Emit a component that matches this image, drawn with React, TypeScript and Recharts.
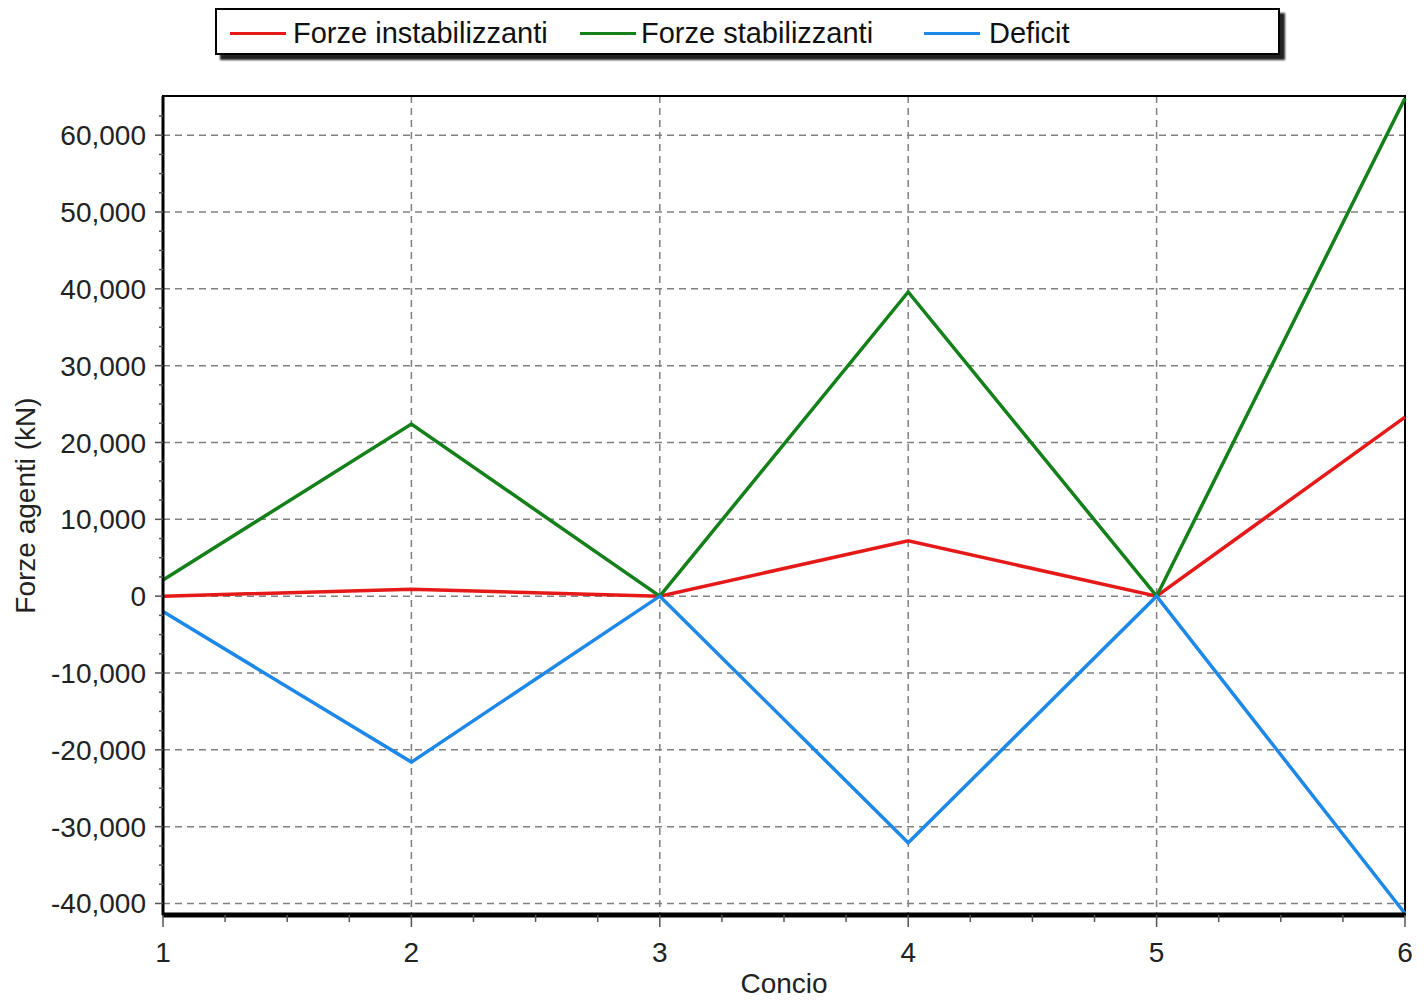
import { LineChart, Line, XAxis, YAxis, CartesianGrid, ReferenceArea } from 'recharts';

const concio = [1, 2, 3, 4, 5, 6];
const forzeInstabilizzanti = [0, 900, 0, 7200, 0, 23300];
const forzeStabilizzanti = [2100, 22400, 0, 39600, 0, 64800];
const deficit = [-2000, -21600, 0, -32100, 0, -41300];

const xMajor = [1, 2, 3, 4, 5, 6];
const yMajor = [-40000, -30000, -20000, -10000, 0, 10000, 20000, 30000, 40000, 50000, 60000];
const xDomain = [1, 6];
const yDomain = [-41500, 65100];

// minor ticks: 4 steps between majors
const xTicks: number[] = [];
for (let v = 1; v <= 6.001; v += 0.25) xTicks.push(Math.round(v * 100) / 100);
const yTicks: number[] = [];
for (let v = -40000; v <= 62500; v += 2500) yTicks.push(v);

const data = concio.map((c, i) => ({
    concio: c,
    instab: forzeInstabilizzanti[i],
    stab: forzeStabilizzanti[i],
    deficit: deficit[i],
}));

const series = [
    { key: 'instab', name: 'Forze instabilizzanti', color: '#e61919' },
    { key: 'stab', name: 'Forze stabilizzanti', color: '#14801a' },
    { key: 'deficit', name: 'Deficit', color: '#1e88e8' },
];

const fmt = (v: number) => v.toLocaleString('en-US');

// grid only on the major ticks (axis ticks include the minor ones)
const scaleOf = (axis: any, v: number, fallback: () => number) => {
    const s = axis?.scale;
    if (typeof s === 'function') return s(v);
    if (s && typeof s.map === 'function') return s.map(v);
    return fallback();
};

const vGrid = ({ xAxis, offset }: any) =>
    xMajor.map((v) =>
        scaleOf(xAxis, v, () => offset.left + ((v - xDomain[0]) / (xDomain[1] - xDomain[0])) * offset.width)
    );

const hGrid = ({ yAxis, offset }: any) =>
    yMajor.map((v) =>
        scaleOf(yAxis, v, () => offset.top + ((yDomain[1] - v) / (yDomain[1] - yDomain[0])) * offset.height)
    );

const XTick = ({ x, y, payload }: any) => {
    const major = Number.isInteger(payload.value);
    return (
        <g>
            <line x1={x} x2={x} y1={y} y2={y + (major ? 12 : 7)} stroke="#555" strokeWidth={1.5} />
            {major && (
                <text x={x} y={y + 47} textAnchor="middle" fontSize={28} fill="#222">
                    {payload.value}
                </text>
            )}
        </g>
    );
};

const YTick = ({ x, y, payload }: any) => {
    const major = payload.value % 10000 === 0;
    return (
        <g>
            <line x1={x - (major ? 8 : 4)} x2={x} y1={y} y2={y} stroke="#555" strokeWidth={1.5} />
            {major && (
                <text x={x - 17} y={y + 10} textAnchor="end" fontSize={28} fill="#222">
                    {fmt(payload.value)}
                </text>
            )}
        </g>
    );
};

const legendPos = [
    { line: 230, text: 293 },
    { line: 580, text: 641 },
    { line: 924, text: 989 },
];

function ChartLegend() {
    return (
        <div
            style={{
                position: 'absolute',
                left: 215,
                top: 8,
                width: 1061,
                height: 43,
                border: '2px solid #000',
                background: '#fff',
                boxShadow: '5px 5px 2px #222',
            }}
        >
            {series.map((s, i) => (
                <div key={s.key}>
                    <div
                        style={{
                            position: 'absolute',
                            left: legendPos[i].line - 217,
                            top: 22,
                            width: 56,
                            height: 3,
                            background: s.color,
                        }}
                    />
                    <span
                        style={{
                            position: 'absolute',
                            left: legendPos[i].text - 217,
                            top: 6,
                            fontSize: 29,
                            lineHeight: '34px',
                            color: '#111',
                            whiteSpace: 'nowrap',
                        }}
                    >
                        {s.name}
                    </span>
                </div>
            ))}
        </div>
    );
}

export default function App() {
    return (
        <div
            style={{
                position: 'absolute',
                left: 0,
                top: 0,
                width: 1426,
                height: 1001,
                background: '#fff',
                fontFamily: '"Liberation Sans", Arial, sans-serif',
                overflow: 'hidden',
            }}
        >
            <LineChart width={1426} height={1001} data={data} margin={{ top: 96, right: 21, bottom: 0, left: 0 }}>
                <CartesianGrid
                    stroke="#808080"
                    strokeWidth={1.5}
                    strokeDasharray="7 5"
                    verticalCoordinatesGenerator={vGrid}
                    horizontalCoordinatesGenerator={hGrid}
                />
                <XAxis
                    dataKey="concio"
                    type="number"
                    domain={xDomain}
                    ticks={xTicks}
                    interval={0}
                    height={86}
                    tickSize={0}
                    tickMargin={0}
                    tickLine={false}
                    tick={<XTick />}
                    axisLine={{ stroke: '#000', strokeWidth: 5 }}
                    label={{ value: 'Concio', position: 'insideBottom', offset: 8, fontSize: 28, fill: '#222' }}
                />
                <YAxis
                    type="number"
                    domain={yDomain}
                    ticks={yTicks}
                    interval={0}
                    width={163}
                    tickSize={0}
                    tickMargin={0}
                    tickLine={false}
                    tick={<YTick />}
                    axisLine={{ stroke: '#000', strokeWidth: 3 }}
                    label={{
                        value: 'Forze agenti (kN)',
                        angle: -90,
                        position: 'insideLeft',
                        offset: 25,
                        fontSize: 28,
                        fill: '#222',
                        style: { textAnchor: 'middle' },
                    }}
                />
                <ReferenceArea x1={1} x2={6} y1={yDomain[0]} y2={yDomain[1]} fill="none" stroke="#000" strokeWidth={2} />
                {series.map((s) => (
                    <Line
                        key={s.key}
                        type="linear"
                        dataKey={s.key}
                        name={s.name}
                        stroke={s.color}
                        strokeWidth={3.5}
                        dot={false}
                        isAnimationActive={false}
                    />
                ))}
            </LineChart>
            <ChartLegend />
        </div>
    );
}
